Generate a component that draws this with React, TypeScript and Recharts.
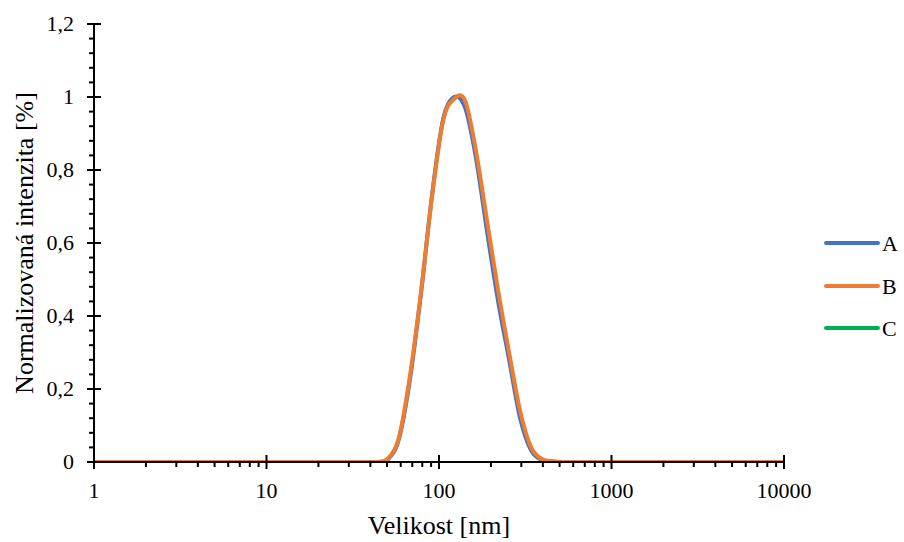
import { LineChart, Line, XAxis, YAxis, Legend } from 'recharts'

// velikosti částic (nm) – log biny
const sizes = [
  1, 1.117, 1.294, 1.499, 1.736, 2.01, 2.328, 2.696, 3.122, 3.615,
  4.187, 4.849, 5.615, 6.503, 7.531, 8.721, 10.1, 11.7, 13.54, 15.69,
  18.17, 21.04, 24.36, 28.21, 32.67, 37.84, 43.82, 50.75, 58.77, 68.06,
  78.82, 91.28, 105.7, 122.4, 141.8, 164.2, 190.1, 220.2, 255, 295.3,
  342, 396.1, 458.7, 531.2, 615.1, 712.4, 825, 955.4, 1106, 1281,
  1484, 1718, 1990, 2305, 2669, 3091, 3580, 4145, 4801, 5560,
  6439, 7456, 8635, 10000,
]

const seriesA = [
  0, 0, 0, 0, 0, 0, 0, 0, 0, 0,
  0, 0, 0, 0, 0, 0, 0, 0, 0, 0,
  0, 0, 0, 0, 0, 0, 0, 0.008, 0.065, 0.23,
  0.465, 0.735, 0.94, 1.0, 0.97, 0.83, 0.63, 0.44, 0.28, 0.12,
  0.032, 0.005, 0.001, 0, 0, 0, 0, 0, 0, 0,
  0, 0, 0, 0, 0, 0, 0, 0, 0, 0,
  0, 0, 0, 0,
]

const seriesB = [
  0, 0, 0, 0, 0, 0, 0, 0, 0, 0,
  0, 0, 0, 0, 0, 0, 0, 0, 0, 0,
  0, 0, 0, 0, 0, 0, 0, 0.01, 0.07, 0.24,
  0.47, 0.73, 0.935, 0.995, 0.99, 0.85, 0.66, 0.47, 0.3, 0.14,
  0.04, 0.008, 0.002, 0, 0, 0, 0, 0, 0, 0,
  0, 0, 0, 0, 0, 0, 0, 0, 0, 0,
  0, 0, 0, 0,
]

// série C nemá žádná viditelná data (jen v legendě)
const seriesC: (number | null)[] = sizes.map(() => null)

const xMajorTicks = [1, 10, 100, 1000, 10000]
const xTickLabels = ['1', '10', '100', '1000', '10000']
const yMajorTicks = [0, 0.2, 0.4, 0.6, 0.8, 1, 1.2]
const yTickLabels = ['0', '0,2', '0,4', '0,6', '0,8', '1', '1,2']

const legendItems = [
  { name: 'A', color: '#4472C4' },
  { name: 'B', color: '#ED7D31' },
  { name: 'C', color: '#00B050' },
]

const FONT = 'Liberation Serif'

const data = sizes.map((s, i) => ({ size: s, A: seriesA[i], B: seriesB[i], C: seriesC[i] }))

// minor ticks: 2..9 v každé dekádě
const xTicks: number[] = []
xMajorTicks.forEach((m, i) => {
  xTicks.push(m)
  if (i < xMajorTicks.length - 1) for (let k = 2; k <= 9; k++) xTicks.push(m * k)
})
const yTicks: number[] = []
yMajorTicks.forEach((m, i) => {
  yTicks.push(m)
  if (i < yMajorTicks.length - 1) for (let k = 1; k <= 4; k++) yTicks.push(+(m + k * 0.04).toFixed(2))
})

// vyhlazená čára jako v Excelu (Catmull-Rom)
function smoothCurve(context: any) {
  let pts: [number, number][] = []
  return {
    areaStart() {},
    areaEnd() {},
    lineStart() { pts = [] },
    point(x: number, y: number) { pts.push([+x, +y]) },
    lineEnd() {
      if (!pts.length) return
      context.moveTo(pts[0][0], pts[0][1])
      for (let i = 0; i < pts.length - 1; i++) {
        const p0 = pts[i - 1] || pts[i]
        const p1 = pts[i]
        const p2 = pts[i + 1]
        const p3 = pts[i + 2] || p2
        context.bezierCurveTo(
          p1[0] + (p2[0] - p0[0]) / 6, p1[1] + (p2[1] - p0[1]) / 6,
          p2[0] - (p3[0] - p1[0]) / 6, p2[1] - (p3[1] - p1[1]) / 6,
          p2[0], p2[1],
        )
      }
    },
  }
}

function XTick(props: any) {
  const { x, y, payload } = props
  const idx = xMajorTicks.indexOf(payload.value)
  if (idx < 0) {
    return <line x1={x} x2={x} y1={y} y2={y + 5} stroke="#000" strokeWidth={2} />
  }
  return (
    <g>
      <line x1={x} x2={x} y1={y - 7} y2={y + 7} stroke="#000" strokeWidth={2} />
      <text x={x} y={y + 36} textAnchor="middle" fontSize={22} fontFamily={FONT} fill="#000">
        {xTickLabels[idx]}
      </text>
    </g>
  )
}

function YTick(props: any) {
  const { x, y, payload } = props
  const idx = yMajorTicks.findIndex(v => Math.abs(v - payload.value) < 1e-6)
  if (idx < 0) {
    return <line x1={x - 5} x2={x} y1={y} y2={y} stroke="#000" strokeWidth={2} />
  }
  return (
    <g>
      <line x1={x - 7} x2={x + 7} y1={y} y2={y} stroke="#000" strokeWidth={2} />
      <text x={x - 20} y={y + 7} textAnchor="end" fontSize={22} fontFamily={FONT} fill="#000">
        {yTickLabels[idx]}
      </text>
    </g>
  )
}

function renderLegend() {
  return (
    <div>
      {legendItems.map(it => (
        <svg key={it.name} width={80} height={42.5} style={{ display: 'block' }}>
          <line x1={2} x2={54} y1={15} y2={15} stroke={it.color} strokeWidth={4} strokeLinecap="round" />
          <text x={58} y={22.5} fontSize={22} fontFamily={FONT} fill="#000">{it.name}</text>
        </svg>
      ))}
    </div>
  )
}

function XLabel(props: any) {
  const { viewBox } = props
  const cx = viewBox.x + viewBox.width / 2
  return (
    <text x={cx} y={534} textAnchor="middle" fontSize={26} fontFamily={FONT} fill="#000">
      Velikost [nm]
    </text>
  )
}

function YLabel(props: any) {
  const { viewBox } = props
  const cy = viewBox.y + viewBox.height / 2
  return (
    <text x={0} y={0} transform={`translate(33, ${cy}) rotate(-90)`} textAnchor="middle" fontSize={26} fontFamily={FONT} fill="#000">
      Normalizovaná intenzita [%]
    </text>
  )
}

export default function App() {
  return (
    <div style={{ position: 'absolute', left: 0, top: 0, fontFamily: FONT }}>
      <LineChart
        width={904}
        height={542}
        data={data}
        margin={{ top: 24, right: 40, bottom: 0, left: 0 }}
      >
        <XAxis
          dataKey="size"
          type="number"
          scale="log"
          domain={[1, 10000]}
          ticks={xTicks}
          interval={0}
          height={80}
          tickSize={0}
          tickMargin={0}
          tickLine={false}
          axisLine={{ stroke: '#000', strokeWidth: 2 }}
          tick={<XTick />}
          allowDataOverflow
          label={<XLabel />}
        />
        <YAxis
          type="number"
          domain={[0, 1.2]}
          ticks={yTicks}
          interval={0}
          width={94}
          tickSize={0}
          tickMargin={0}
          tickLine={false}
          axisLine={{ stroke: '#000', strokeWidth: 2 }}
          tick={<YTick />}
          allowDataOverflow
          label={<YLabel />}
        />
        <Legend
          layout="vertical"
          align="right"
          verticalAlign="top"
          content={renderLegend}
          wrapperStyle={{ left: 824, top: 228, width: 80 }}
        />
        <Line type={smoothCurve as any} dataKey="C" stroke="#00B050" strokeWidth={4} dot={false} isAnimationActive={false} />
        <Line type={smoothCurve as any} dataKey="A" stroke="#4472C4" strokeWidth={4} dot={false} isAnimationActive={false} />
        <Line type={smoothCurve as any} dataKey="B" stroke="#ED7D31" strokeWidth={4} dot={false} isAnimationActive={false} />
      </LineChart>
    </div>
  )
}
